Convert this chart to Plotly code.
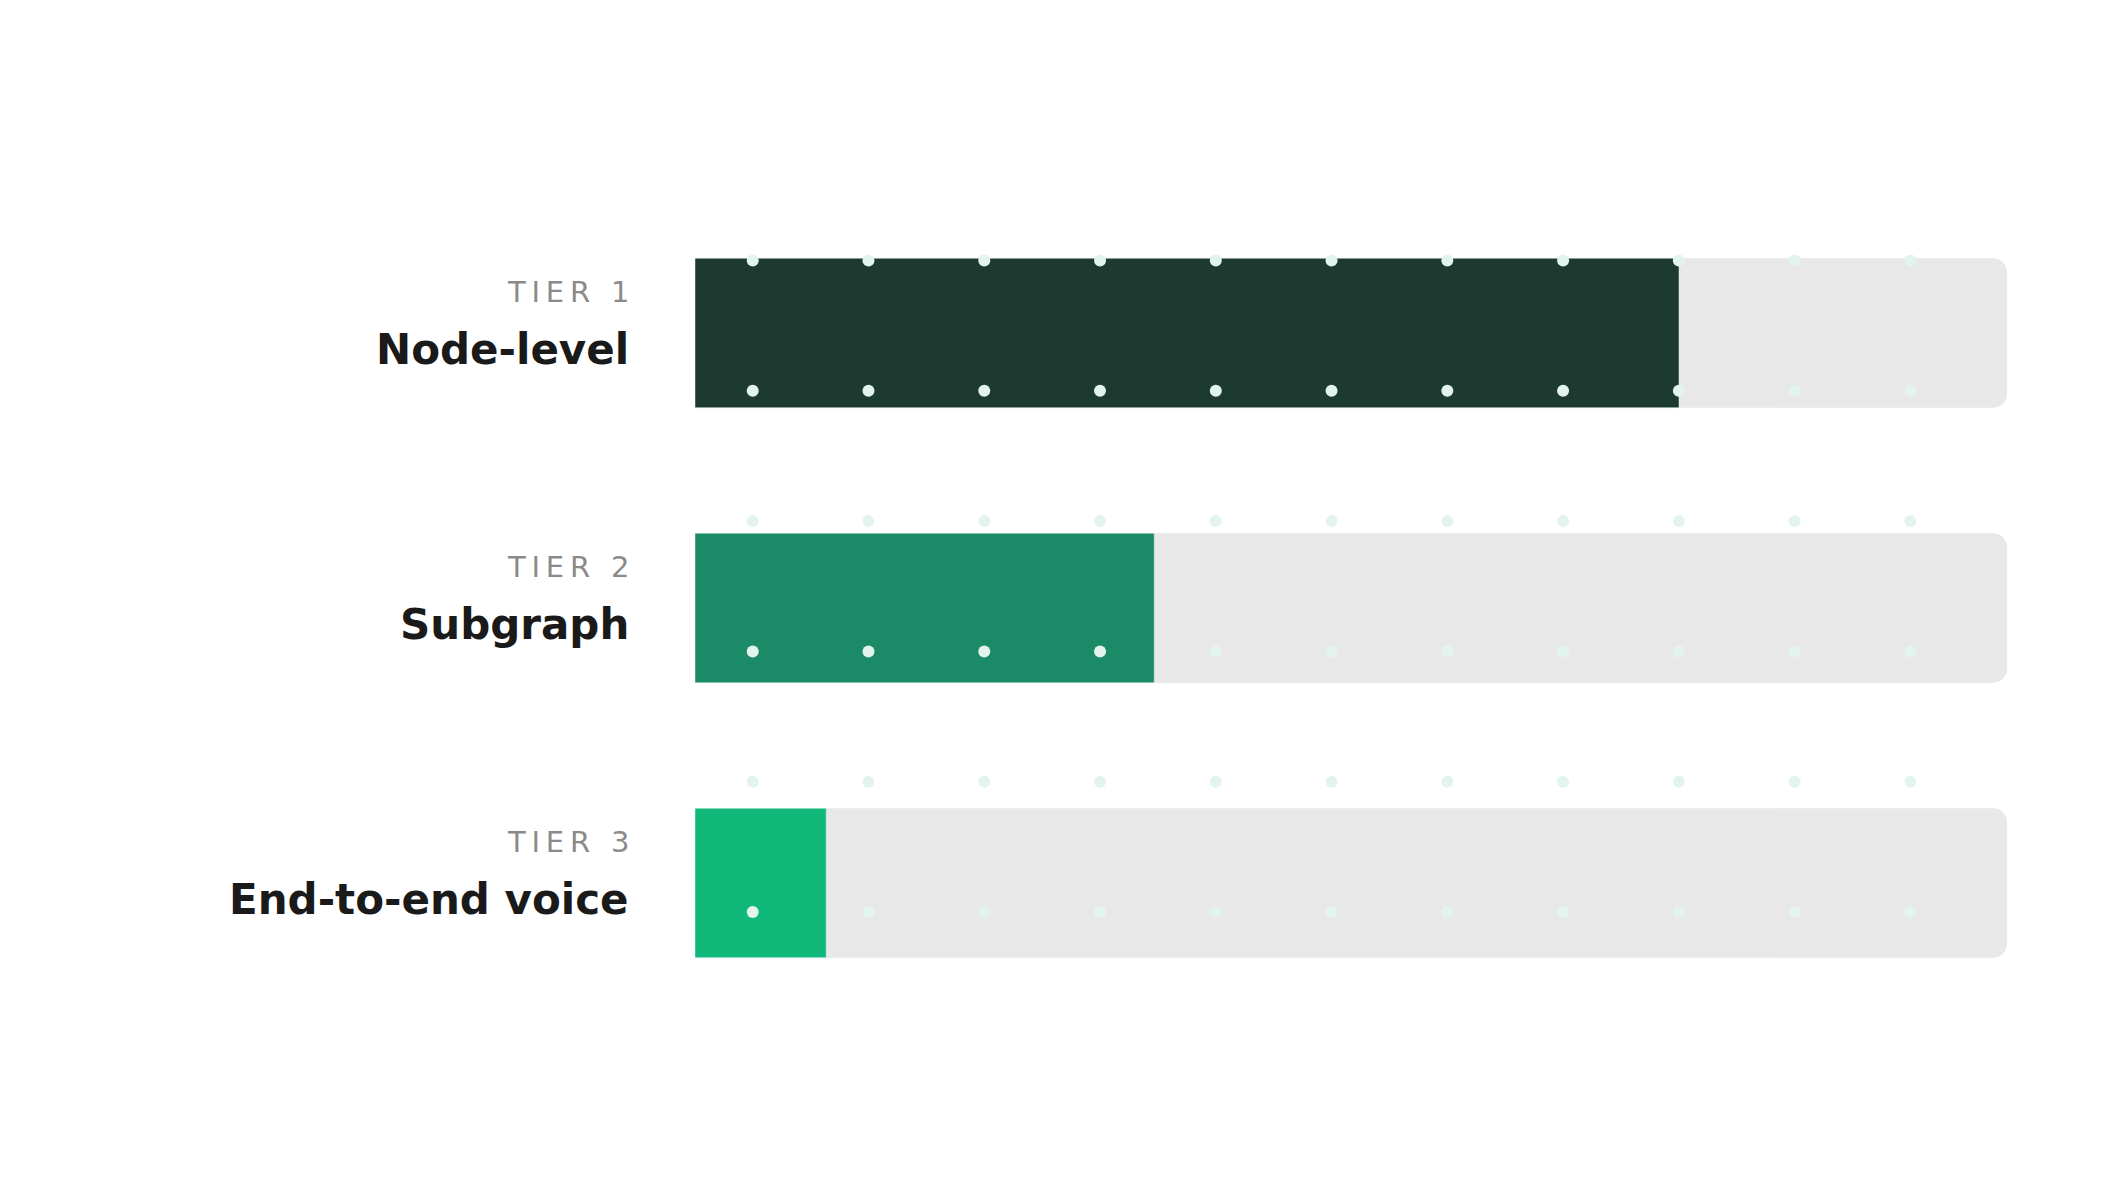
import numpy as np
import plotly.graph_objects as go

# data
tiers = ["TIER 1", "TIER 2", "TIER 3"]
names = ["Node-level", "Subgraph", "End-to-end voice"]
values = [75, 35, 10]
colors = ["#1c3a2f", "#1b8a66", "#10b97a"]
track_max = 100

W, H = 2125, 1187

fig = go.Figure()

# dotted background on a pixel-space overlay axis
gx, gy = np.meshgrid(93.5 + 187.5 * np.arange(11), 93.5 + 187.5 * np.arange(6))
fig.add_trace(go.Scatter(
    x=gx.ravel(), y=gy.ravel(), mode="markers", xaxis="x2", yaxis="y2",
    marker=dict(size=12, color="#e3f4ef"), hoverinfo="skip", showlegend=False))

# tracks
fig.add_trace(go.Bar(
    y=names, x=[track_max] * 3, orientation="h", marker=dict(color="#e8e8e8", cornerradius=14),
    width=0.543, hoverinfo="skip", showlegend=False))
# values
fig.add_trace(go.Bar(
    y=names, x=values, orientation="h", marker=dict(color=colors, cornerradius=14),
    width=0.543, showlegend=False))

for t, n in zip(tiers, names):
    fig.add_annotation(x=623 / W, xref="paper", y=n, yref="y", text="\u2009".join(t),
                       showarrow=False, xanchor="right", yshift=41,
                       font=dict(family="DejaVu Sans", size=29, color="#8a8a8a"))
    fig.add_annotation(x=623 / W, xref="paper", y=n, yref="y", text=f"<b>{n}</b>",
                       showarrow=False, xanchor="right", yshift=-16,
                       font=dict(family="DejaVu Sans", size=42, color="#1a1a1a"))

fig.update_layout(
    width=W, height=H, margin=dict(l=0, r=0, t=0, b=0),
    paper_bgcolor="white", plot_bgcolor="rgba(0,0,0,0)", barmode="overlay",
    xaxis=dict(domain=[687 / W, 1999 / W], range=[0, track_max], visible=False),
    yaxis=dict(domain=[1 - 1012.5 / H, 1 - 187.5 / H], categoryorder="array",
               categoryarray=names, autorange="reversed", visible=False),
    xaxis2=dict(domain=[0, 1], range=[0, W], visible=False, overlaying="x"),
    yaxis2=dict(domain=[0, 1], range=[H, 0], visible=False, overlaying="y"),
)

fig.write_html("out.html")
